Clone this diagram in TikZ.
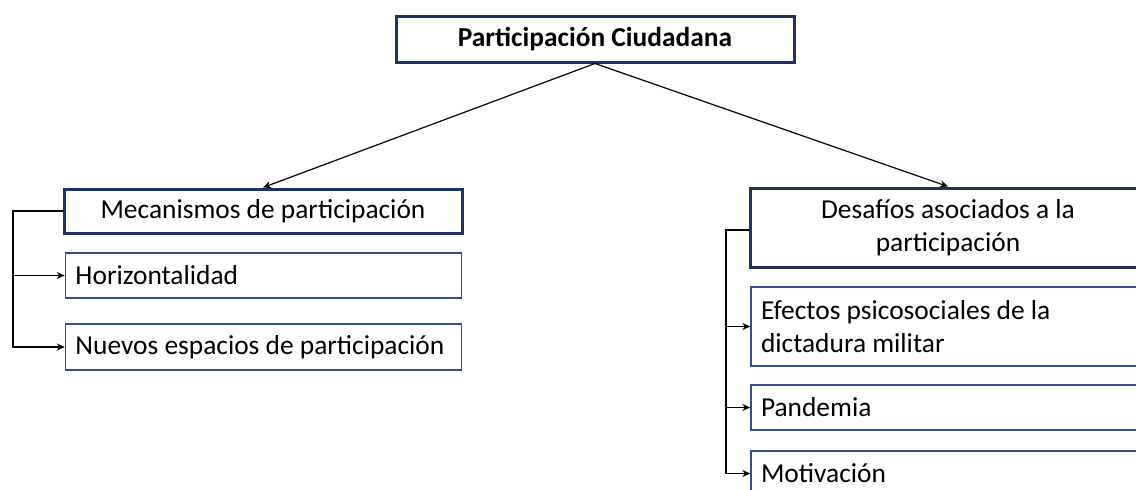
\documentclass[tikz,border=0pt]{standalone}
\usepackage{fontspec}
\setmainfont{Carlito}
\usetikzlibrary{positioning}
\usetikzlibrary{arrows.meta}
\definecolor{navydark}{RGB}{31,50,99}
\definecolor{navylight}{RGB}{47,80,140}
\begin{document}
\begin{tikzpicture}
  [x=0.5pt,y=-0.5pt,
   font=\fontsize{13.7}{16.8}\selectfont,
   headbox/.style={draw=navydark,line width=1.5pt,inner sep=0pt,align=center},
   itembox/.style={draw=navylight,line width=0.75pt,inner xsep=5pt,inner ysep=0pt,align=flush left,text width=188pt,minimum width=198pt},
   link/.style={black,line width=0.6pt},
   arr/.style={link,-{Stealth[length=4pt,width=3.5pt]}}]
  \useasboundingbox (0,0) rectangle (1136,489);
  \clip (0,0) rectangle (1136,489);
  % title
  \node[headbox,minimum width=199pt,minimum height=23pt] (titulo) at (595,39) {\textbf{Participación Ciudadana}};
  % left branch
  \node[headbox,minimum width=199pt,minimum height=22pt] (mecanismos) at (263,211) {Mecanismos de participación};
  \node[itembox,minimum height=22.5pt] (horiz) at (263.5,275.5) {Horizontalidad};
  \node[itembox,minimum height=23pt] (nuevos) at (263.5,347) {Nuevos espacios de participación};
  % right branch
  \node[headbox,minimum width=197.5pt,minimum height=39.5pt] (desafios) at (948,227.5) {Desafíos asociados a la\\participación};
  \node[itembox,minimum height=39.5pt] (efectos) at (949,326.5) {Efectos psicosociales de la\\dictadura militar};
  \node[itembox,minimum height=22.5pt] (pandemia) at (949,407.5) {Pandemia};
  \node[itembox,minimum height=22.5pt] (motivacion) at (949,473.5) {Motivación};
  % connectors from title
  \draw[arr] (titulo.south) -- (mecanismos.north);
  \draw[arr] (titulo.south) -- (desafios.north);
  % left bus
  \coordinate (busizq) at (13,211);
  \draw[arr] (mecanismos.west) -- (busizq) |- (nuevos.west);
  \draw[arr] (busizq |- horiz.west) -- (horiz.west);
  % right bus
  \coordinate (busder) at (726,230);
  \draw[arr] (desafios.west |- busder) -- (busder) |- (motivacion.west);
  \draw[arr] (busder |- efectos.west) -- (efectos.west);
  \draw[arr] (busder |- pandemia.west) -- (pandemia.west);
\end{tikzpicture}
\end{document}
